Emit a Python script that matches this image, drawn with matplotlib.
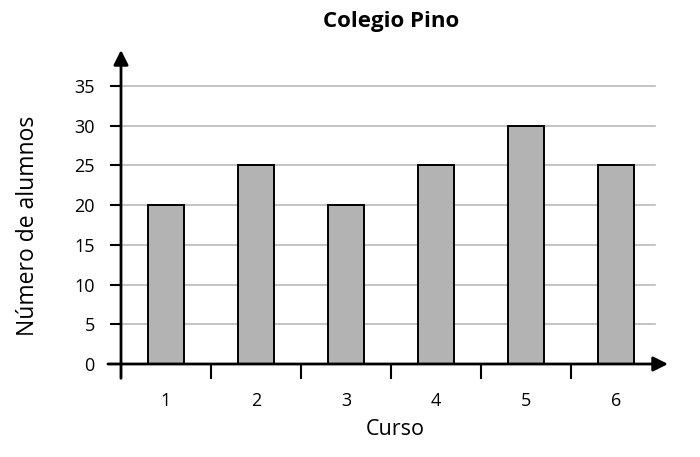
import matplotlib.pyplot as plt
import numpy as np

# data
cursos = ['1', '2', '3', '4', '5', '6']
alumnos = [20, 25, 20, 25, 30, 25]
y_ticks = [0, 5, 10, 15, 20, 25, 30, 35]

plt.rcParams['font.family'] = ['Open Sans', 'DejaVu Sans']

fig = plt.figure(figsize=(7, 4.57), dpi=100)
ax = fig.add_axes([121 / 700, 93 / 457, (668 - 121) / 700, (364 - 50) / 457])

x = np.arange(1, len(cursos) + 1)
x_max = 0.5 + (668 - 121) / 90
y_max = (364 - 50) / (278 / 35)
ax.set_xlim(0.5, x_max)
ax.set_ylim(0, y_max)

# horizontal grid
grid_end = 0.5 + (655 - 121) / 90
for yv in y_ticks[1:]:
    ax.plot([0.5, grid_end], [yv, yv], color='#b4b4b4', lw=1.1, zorder=1)

ax.bar(x, alumnos, width=0.39, color='#b3b3b3', edgecolor='black', lw=1.4, zorder=3)

for s in ax.spines.values():
    s.set_visible(False)

# axes with arrows
ax.annotate('', xy=(x_max, 0), xytext=(0.355, 0), annotation_clip=False,
            arrowprops=dict(arrowstyle='-|>', lw=2, color='black', mutation_scale=22,
                            shrinkA=0, shrinkB=0), zorder=5)
ax.annotate('', xy=(0.5, y_max), xytext=(0.5, -1.8), annotation_clip=False,
            arrowprops=dict(arrowstyle='-|>', lw=2, color='black', mutation_scale=22,
                            shrinkA=0, shrinkB=0), zorder=5)

ax.set_yticks(y_ticks)
ax.set_yticklabels([str(v) for v in y_ticks], fontsize=13)
ax.tick_params(axis='y', length=8, width=1.5, pad=11)

ax.set_xticks(np.arange(0.5, len(cursos) + 0.5, 1.0))
ax.set_xticklabels([])
ax.tick_params(axis='x', which='major', length=11, width=1.5)
ax.set_xticks(x, minor=True)
ax.set_xticklabels(cursos, minor=True, fontsize=13)
ax.tick_params(axis='x', which='minor', length=0, pad=20)

ax.set_xlabel('Curso', fontsize=15.5)
ax.xaxis.set_label_coords((395 - 121) / (668 - 121), -(419 - 364) / (364 - 50))
ax.set_ylabel('Número de alumnos', fontsize=16.5)
ax.yaxis.set_label_coords(-0.148, (364 - 226) / (364 - 50))
fig.suptitle('Colegio Pino', fontsize=16, fontweight='bold', x=391 / 700, y=1 - 22 / 457, va='center')

fig.savefig('out.png', dpi=100)
